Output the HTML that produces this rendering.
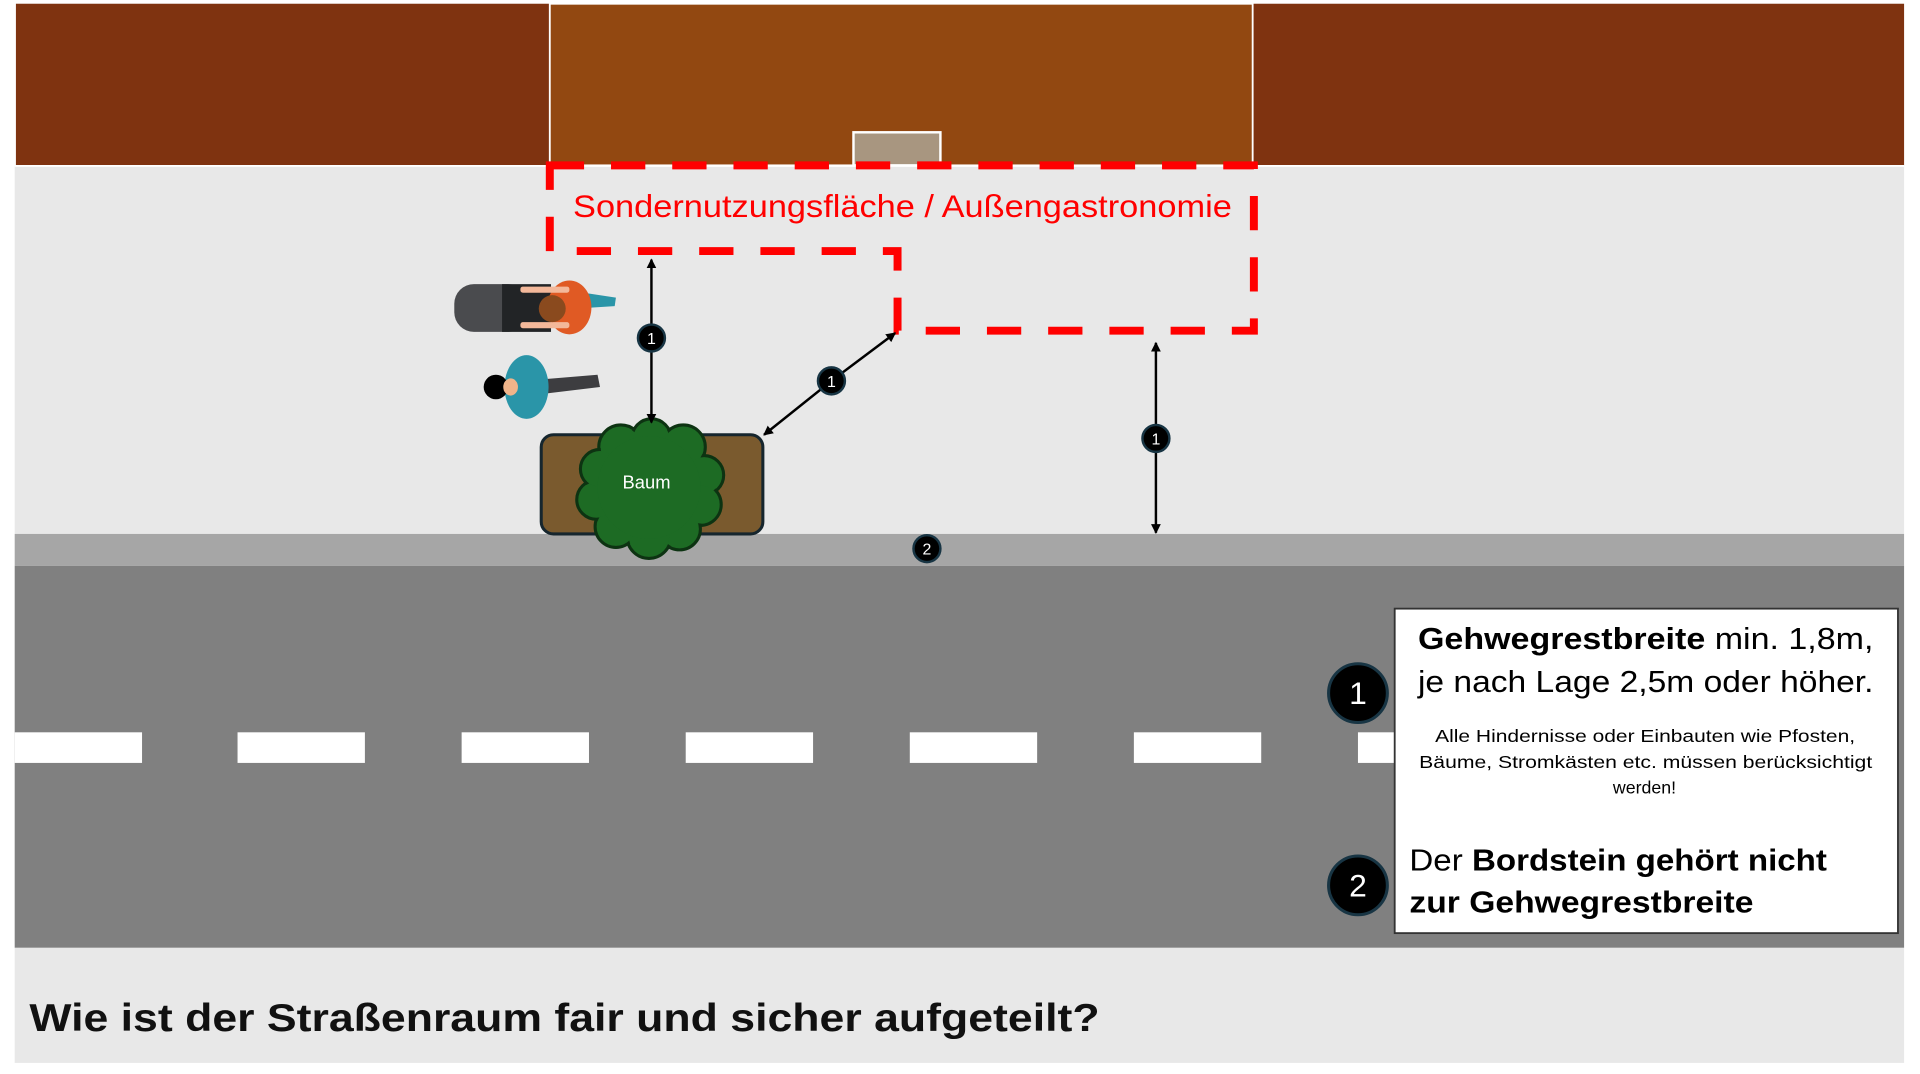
<!DOCTYPE html>
<html><head><meta charset="utf-8"><style>html,body{margin:0;padding:0;background:#fff;}svg{display:block}</style></head>
<body>
<svg width="1920" height="1074" viewBox="0 0 1568 877" xmlns="http://www.w3.org/2000/svg" font-family="Liberation Sans, sans-serif">
<rect x="0" y="0" width="1568" height="877" fill="#fff"/>
<rect x="13" y="3" width="1542" height="132" fill="#7f3310"/>
<rect x="449" y="3" width="574" height="132" fill="#924811" stroke="#fff" stroke-width="1.5"/>
<rect x="697" y="108" width="71" height="27" fill="#a89680" stroke="#fff" stroke-width="2"/>
<rect x="12" y="135" width="1543" height="301" fill="#e8e8e8"/>
<line x1="12" y1="135.5" x2="1555" y2="135.5" stroke="#fff" stroke-width="1.5"/>
<rect x="12" y="436" width="1543" height="26" fill="#a6a6a6"/>
<rect x="12" y="462" width="1543" height="312" fill="#808080"/>
<g fill="#fff">
<rect x="12" y="598" width="104" height="25"/><rect x="194" y="598" width="104" height="25"/><rect x="377" y="598" width="104" height="25"/><rect x="560" y="598" width="104" height="25"/><rect x="743" y="598" width="104" height="25"/><rect x="926" y="598" width="104" height="25"/><rect x="1109" y="598" width="104" height="25"/>
</g>
<rect x="12" y="774" width="1543" height="94" fill="#e8e8e8"/>
<text x="24" y="842" font-size="32" font-weight="bold" fill="#111" textLength="874" lengthAdjust="spacingAndGlyphs">Wie ist der Straßenraum fair und sicher aufgeteilt?</text>
<path d="M449,135 L1024,135 L1024,270 L733,270 L733,205 L449,205 Z" fill="none" stroke="#ff0000" stroke-width="6.5" stroke-dasharray="28 22"/>
<text x="468" y="177" font-size="26" fill="#ff0000" textLength="538" lengthAdjust="spacingAndGlyphs">Sondernutzungsfläche / Außengastronomie</text>
<g>
<rect x="371" y="232" width="60" height="39" rx="16" fill="#4a4b4e"/>
<rect x="410" y="232" width="40" height="39" fill="#222426"/>
<path d="M470,238 L503,243 L502,250 L470,252Z" fill="#2a95a8"/>
<ellipse cx="465" cy="251" rx="18" ry="22" fill="#e05a24"/>
<rect x="425" y="234" width="40" height="5" rx="2" fill="#f3b89a"/>
<rect x="425" y="263" width="40" height="5" rx="2" fill="#f3b89a"/>
<circle cx="451" cy="252" r="11" fill="#8a4a1e"/>
<path d="M440,310 L488,306 L490,316 L440,322Z" fill="#3d3d40"/>
<ellipse cx="430" cy="316" rx="18" ry="26" fill="#2a95a8"/>
<circle cx="405" cy="316" r="10" fill="#000"/>
<ellipse cx="417" cy="316" rx="6" ry="7" fill="#f0b48a"/>
</g>
<rect x="442" y="355" width="181" height="81" rx="10" fill="#7a5a2e" stroke="#16262e" stroke-width="2.5"/>
<g stroke="#0d3312" stroke-width="2.5" fill="#1d6b24">
<circle cx="507" cy="365" r="18"/><circle cx="532" cy="358" r="16"/><circle cx="558" cy="365" r="18"/><circle cx="575" cy="388" r="16"/><circle cx="572" cy="412" r="17"/><circle cx="555" cy="432" r="17"/><circle cx="530" cy="438" r="18"/><circle cx="503" cy="430" r="17"/><circle cx="487" cy="408" r="16"/><circle cx="490" cy="383" r="16"/>
</g>
<g fill="#1d6b24">
<circle cx="507" cy="365" r="16.5"/><circle cx="532" cy="358" r="14.5"/><circle cx="558" cy="365" r="16.5"/><circle cx="575" cy="388" r="14.5"/><circle cx="572" cy="412" r="15.5"/><circle cx="555" cy="432" r="15.5"/><circle cx="530" cy="438" r="16.5"/><circle cx="503" cy="430" r="15.5"/><circle cx="487" cy="408" r="14.5"/><circle cx="490" cy="383" r="14.5"/>
<circle cx="530" cy="398" r="42"/>
</g>
<text x="528" y="399" font-size="15" fill="#fff" text-anchor="middle">Baum</text>
<defs><marker id="ah" markerWidth="8" markerHeight="8" refX="7" refY="4" orient="auto" markerUnits="userSpaceOnUse"><path d="M0,0 L8,4 L0,8 Z" fill="#000"/></marker></defs>
<g stroke="#000" stroke-width="2" marker-end="url(#ah)">
<line x1="532" y1="276" x2="532" y2="212"/>
<line x1="532" y1="276" x2="532" y2="345"/>
<line x1="679" y1="311" x2="731" y2="272"/>
<line x1="679" y1="311" x2="624" y2="355"/>
<line x1="944" y1="358" x2="944" y2="280"/>
<line x1="944" y1="358" x2="944" y2="435"/>
</g>
<g fill="#000" stroke="#183544" stroke-width="2">
<circle cx="532" cy="276" r="11"/><circle cx="679" cy="311" r="11"/><circle cx="944" cy="358" r="11"/><circle cx="757" cy="448" r="11"/>
</g>
<g fill="#fff" font-size="13" text-anchor="middle">
<text x="532" y="281">1</text><text x="679" y="316">1</text><text x="944" y="363">1</text><text x="757" y="453">2</text>
</g>
<rect x="1139" y="497" width="411" height="265" fill="#fff" stroke="#333" stroke-width="1.5"/>
<g fill="#000" stroke="#183544" stroke-width="2.5"><circle cx="1109" cy="566" r="24"/><circle cx="1109" cy="723" r="24"/></g>
<g fill="#fff" font-size="26" text-anchor="middle"><text x="1109" y="575">1</text><text x="1109" y="732">2</text></g>
<g fill="#000">
<text x="1158" y="530" font-size="25" textLength="372" lengthAdjust="spacingAndGlyphs"><tspan font-weight="bold">Gehwegrestbreite</tspan> min. 1,8m,</text>
<text x="1158" y="565" font-size="25" textLength="372" lengthAdjust="spacingAndGlyphs">je nach Lage 2,5m oder höher.</text>
<text x="1172" y="606" font-size="14.5" textLength="343" lengthAdjust="spacingAndGlyphs">Alle Hindernisse oder Einbauten wie Pfosten,</text>
<text x="1159" y="627" font-size="14.5" textLength="370" lengthAdjust="spacingAndGlyphs">Bäume, Stromkästen etc. müssen berücksichtigt</text>
<text x="1343" y="648" font-size="14.5" text-anchor="middle">werden!</text>
</g>
<text x="1151" y="711" font-size="25" fill="#000" textLength="341" lengthAdjust="spacingAndGlyphs">Der <tspan font-weight="bold">Bordstein gehört nicht</tspan></text>
<text x="1151" y="745" font-size="25" font-weight="bold" fill="#000" textLength="281" lengthAdjust="spacingAndGlyphs">zur Gehwegrestbreite</text>
</svg>
</body></html>
